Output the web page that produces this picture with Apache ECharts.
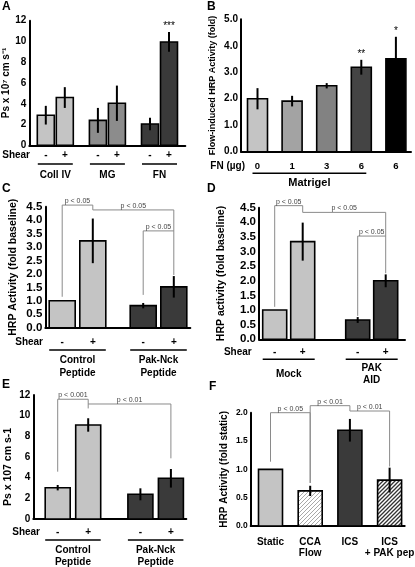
<!DOCTYPE html>
<html><head><meta charset="utf-8">
<script src="https://cdn.jsdelivr.net/npm/echarts@6/dist/echarts.min.js"></script>
<style>html,body{margin:0;padding:0;background:#fff}#c{width:415px;height:567px}</style>
</head><body><div id="c"></div>
<script>
// ---------- Panel A ----------
const aGroups = ['Coll IV', 'MG', 'FN'];
const aShear = ['-', '+', '-', '+', '-', '+'];
const aValues = [2.9, 4.6, 2.4, 4.05, 2.05, 9.95];
const aErrors = [0.9, 1.0, 1.2, 1.7, 0.6, 0.95];
const aStars = ['', '', '', '', '', '***'];
const aTicks = [0, 2, 4, 6, 8, 10, 12];
// ---------- Panel B ----------
const bDoses = ['0', '1', '3', '6', '6'];
const bValues = [2.0, 1.91, 2.49, 3.19, 3.51];
const bErrors = [0.4, 0.2, 0.1, 0.28, 0.83];
const bStars = ['', '', '', '**', '*'];
const bTicks = [0, 1, 2, 3, 4, 5];
const bGroups = ['Matrigel'];
// ---------- Panel C ----------
const cGroups = ['Control\nPeptide', 'Pak-Nck\nPeptide'];
const cShear = ['-', '+', '-', '+'];
const cValues = [1.0, 3.23, 0.82, 1.52];
const cErrors = [0, 0.83, 0.1, 0.4];
const cTicks = [0, 0.5, 1, 1.5, 2, 2.5, 3, 3.5, 4, 4.5];
const cBrackets = [[0, 1, 4.56, 1.15, 4.38], [1, 3, 4.38, 4.38, 1.96], [2, 3, 3.6, 1.22, 3.6]];
const cBracketLabels = ['p < 0.05', 'p < 0.05', 'p < 0.05'];
// ---------- Panel D ----------
const dGroups = ['Mock', 'PAK\nAID'];
const dShear = ['-', '+', '-', '+'];
const dValues = [1.0, 3.34, 0.66, 2.0];
const dErrors = [0, 0.65, 0.1, 0.22];
const dTicks = [0, 0.5, 1, 1.5, 2, 2.5, 3, 3.5, 4, 4.5];
const dBrackets = [[0, 1, 4.57, 1.11, 4.34], [1, 3, 4.34, 4.34, 2.26], [2, 3, 3.53, 0.8, 3.53]];
const dBracketLabels = ['p < 0.05', 'p < 0.05', 'p < 0.05'];
// ---------- Panel E ----------
const eGroups = ['Control\nPeptide', 'Pak-Nck\nPeptide'];
const eShear = ['-', '+', '-', '+'];
const eValues = [3.03, 9.1, 2.39, 3.94];
const eErrors = [0.26, 0.65, 0.58, 0.9];
const eTicks = [0, 2, 4, 6, 8, 10, 12];
const eBrackets = [[0, 1, 11.59, 4.58, 10.7], [1, 3, 11.13, 11.13, 5.87]];
const eBracketLabels = ['p < 0.001', 'p < 0.01'];
// ---------- Panel F ----------
const fCategories = ['Static', 'CCA\nFlow', 'ICS', 'ICS\n+ PAK pep'];
const fValues = [1.0, 0.62, 1.69, 0.81];
const fErrors = [0, 0.09, 0.2, 0.22];
const fTicks = [0, 0.5, 1, 1.5, 2];
const fBrackets = [[0, 1, 2.0, 1.135, 0.76], [1, 2, 2.124, 0.76, 2.03], [2, 3, 2.03, 2.03, 1.05]];
const fBracketLabels = ['p < 0.05', 'p < 0.01', 'p < 0.01'];

const FONT = '"Liberation Sans", Arial, Helvetica, sans-serif';
const LIGHT = '#c4c4c4', DARK = '#3a3a3a';

function hatch(color, lw, bg) {
  const s = 4;
  const c = document.createElement('canvas');
  c.width = s; c.height = s;
  const g = c.getContext('2d');
  g.fillStyle = bg; g.fillRect(0, 0, s, s);
  g.strokeStyle = color; g.lineWidth = lw;
  g.beginPath();
  g.moveTo(-1, s + 1); g.lineTo(s + 1, -1);
  g.moveTo(-1, 1); g.lineTo(1, -1);
  g.moveTo(s - 1, s + 1); g.lineTo(s + 1, s - 1);
  g.stroke();
  return { image: c, repeat: 'repeat' };
}

function pairX(first, group, pair) { return k => first + Math.floor(k / 2) * group + (k % 2) * pair; }
function stepX(first, step) { return k => first + k * step; }

const panels = [
  { letter: 'A', grid: { left: 29.3, top: 20.7, width: 156, height: 124.6 }, x: pairX(16.5, 52.1, 19), barW: 17,
    ticks: aTicks, dec: 0, tickFont: 10, values: aValues, errors: aErrors, stars: aStars,
    fills: [LIGHT, LIGHT, '#8c8c8c', '#8c8c8c', DARK, DARK],
    under: aShear, underOff: 10.4, underFont: 10,
    groups: [[0, 1], [2, 3], [4, 5]], groupNames: aGroups, lineOff: 18.7, nameOff: 30.4, nameFont: 10, nameLH: 12, inset: 0.5,
    yName: 'Ps x 10\u2077 cm s\u207B\u00B9', nameGap: 13, yNameFont: 10, brackets: [], bracketLabels: [] },
  { letter: 'B', grid: { left: 241, top: 19.3, width: 170, height: 132.4 }, x: stepX(16.5, 34.6), barW: 20,
    ticks: bTicks, dec: 1, tickFont: 10, values: bValues, errors: bErrors, stars: bStars,
    fills: [LIGHT, '#a3a3a3', '#828282', '#444444', '#000000'],
    under: bDoses, underOff: 14.3, underFont: 9.5,
    groups: [[0, 3]], groupNames: bGroups, lineOff: 21.6, nameOff: 31, nameFont: 11, nameLH: 12, inset: 5,
    yName: 'Flow-induced HRP Activity (fold)', nameGap: 24, yNameFont: 9, brackets: [], bracketLabels: [] },
  { letter: 'C', grid: { left: 45.3, top: 206.7, width: 145, height: 121 }, x: pairX(16.9, 81, 30.6), barW: 26,
    ticks: cTicks, dec: 1, tickFont: 11.5, values: cValues, errors: cErrors, stars: null,
    fills: [LIGHT, LIGHT, DARK, DARK],
    under: cShear, underOff: 15, underFont: 10,
    groups: [[0, 1], [2, 3]], groupNames: cGroups, lineOff: 22.3, nameOff: 38.7, nameFont: 10, nameLH: 12.7, inset: 0,
    yName: 'HRP Activity (fold baseline)', nameGap: 27, yNameFont: 10.5, brackets: cBrackets, bracketLabels: cBracketLabels },
  { letter: 'D', grid: { left: 259, top: 207.7, width: 146, height: 131.6 }, x: pairX(15.7, 83, 28), barW: 24,
    ticks: dTicks, dec: 1, tickFont: 11.5, values: dValues, errors: dErrors, stars: null,
    fills: [LIGHT, LIGHT, DARK, DARK],
    under: dShear, underOff: 13.4, underFont: 10,
    groups: [[0, 1], [2, 3]], groupNames: dGroups, lineOff: 20, nameOff: 35, nameFont: 10, nameLH: 12, inset: 0,
    yName: 'HRP activity (fold baseline)', nameGap: 32, yNameFont: 10.5, brackets: dBrackets, bracketLabels: dBracketLabels },
  { letter: 'E', grid: { left: 33.3, top: 395, width: 153, height: 124 }, x: pairX(24.4, 82.7, 30.5), barW: 25,
    ticks: eTicks, dec: 0, tickFont: 10, values: eValues, errors: eErrors, stars: null,
    fills: [LIGHT, LIGHT, DARK, DARK],
    under: eShear, underOff: 13.7, underFont: 10,
    groups: [[0, 1], [2, 3]], groupNames: eGroups, lineOff: 21, nameOff: 37.2, nameFont: 10, nameLH: 12.3, inset: 0,
    yName: 'Ps x 107 cm s-1', nameGap: 20, yNameFont: 10.5, yNamePad: [0, 20, 0, 0], brackets: eBrackets, bracketLabels: eBracketLabels },
  { letter: 'F', grid: { left: 250.7, top: 412.7, width: 154, height: 113.3 }, x: stepX(19.8, 39.7), barW: 24,
    ticks: fTicks, dec: 1, tickFont: 8.5, values: fValues, errors: fErrors, stars: null,
    fills: [LIGHT, hatch('#a8a8a8', 1, '#ffffff'), DARK, hatch('#333333', 1.3, '#ffffff')],
    under: fCategories, underOff: 11, underFont: 10, underTop: true, underLH: 10.5,
    groups: [], groupNames: [], lineOff: 0, nameOff: 0, nameFont: 10, nameLH: 12, inset: 0,
    yName: 'HRP Activity (fold static)', nameGap: 21, yNameFont: 10, brackets: fBrackets, bracketLabels: fBracketLabels }
];

const grids = [], xAxes = [], yAxes = [], series = [];

panels.forEach((p, i) => {
  grids.push(Object.assign({ containLabel: false }, p.grid));
  xAxes.push({ gridIndex: i, type: 'value', min: 0, max: p.grid.width,
    axisLine: { show: true, onZero: true, lineStyle: { color: '#000', width: 2 } },
    axisTick: { show: false }, axisLabel: { show: false }, splitLine: { show: false } });
  yAxes.push({ gridIndex: i, type: 'value', min: p.ticks[0], max: p.ticks[p.ticks.length - 1],
    interval: p.ticks[1] - p.ticks[0],
    axisLine: { show: true, lineStyle: { color: '#000', width: 2 } },
    axisTick: { show: false }, splitLine: { show: false },
    axisLabel: { formatter: v => v.toFixed(p.dec), fontFamily: FONT, fontWeight: 'bold', fontSize: p.tickFont, color: '#000', margin: 3 },
    name: p.yName, nameLocation: 'middle', nameGap: p.nameGap, nameRotate: 90,
    nameTextStyle: { fontFamily: FONT, fontWeight: 'bold', fontSize: p.yNameFont, color: '#000', padding: p.yNamePad || 0 } });

  // bars + error bars
  series.push({ type: 'custom', xAxisIndex: i, yAxisIndex: i, clip: false, z: 3,
    data: p.values.map((v, k) => [p.x(k), v, p.errors[k]]),
    renderItem(params, api) {
      const k = params.dataIndex;
      const x = api.value(0), v = api.value(1), e = api.value(2);
      const b = api.coord([x, 0]), t = api.coord([x, v]);
      const ch = [{ type: 'rect', shape: { x: b[0] - p.barW / 2, y: t[1], width: p.barW, height: b[1] - t[1] },
        style: { fill: p.fills[k], stroke: '#000', lineWidth: 1.6 } }];
      const hi = api.coord([x, v + e]);
      if (e > 0) {
        const lo = api.coord([x, v - e]);
        ch.push({ type: 'line', shape: { x1: b[0], y1: lo[1], x2: b[0], y2: hi[1] }, style: { stroke: '#000', lineWidth: 2 } });
      }
      if (p.stars && p.stars[k]) {
        ch.push({ type: 'text', x: b[0], y: hi[1] - 1, style: { text: p.stars[k], font: '10px ' + FONT, fill: '#000', align: 'center', verticalAlign: 'bottom' } });
      }
      return { type: 'group', children: ch };
    } });

  // labels under each bar
  series.push({ type: 'custom', xAxisIndex: i, yAxisIndex: i, clip: false, z: 3, silent: true,
    data: p.under.map((s, k) => [p.x(k), 0]),
    renderItem(params, api) {
      const k = params.dataIndex;
      const b = api.coord([api.value(0), 0]);
      return { type: 'text', x: b[0], y: b[1] + p.underOff,
        style: { text: p.under[k], font: 'bold ' + p.underFont + 'px ' + FONT, fill: '#000', align: 'center',
          verticalAlign: p.underTop ? 'top' : 'middle', lineHeight: p.underLH || p.underFont * 1.2 } };
    } });

  // group underlines and names
  if (p.groups.length) {
    series.push({ type: 'custom', xAxisIndex: i, yAxisIndex: i, clip: false, z: 3, silent: true,
      data: p.groups.map(g => [p.x(g[0]) - p.barW / 2 + p.inset, 0, p.x(g[1]) + p.barW / 2 - p.inset]),
      renderItem(params, api) {
        const k = params.dataIndex;
        const a = api.coord([api.value(0), 0]), c = api.coord([api.value(2), 0]);
        const mid = (a[0] + c[0]) / 2;
        return { type: 'group', children: [
          { type: 'line', shape: { x1: a[0], y1: a[1] + p.lineOff, x2: c[0], y2: a[1] + p.lineOff }, style: { stroke: '#000', lineWidth: 1.6 } },
          { type: 'text', x: mid, y: a[1] + p.nameOff, style: { text: p.groupNames[k], font: 'bold ' + p.nameFont + 'px ' + FONT, fill: '#000', align: 'center', verticalAlign: 'middle', lineHeight: p.nameLH } }
        ] };
      } });
  }

  // significance brackets
  if (p.brackets.length) {
    series.push({ type: 'custom', xAxisIndex: i, yAxisIndex: i, clip: false, z: 2, silent: true,
      data: p.brackets.map(br => [p.x(br[0]), br[2], p.x(br[1]), br[3], br[4]]),
      renderItem(params, api) {
        const k = params.dataIndex;
        const xA = api.value(0), top = api.value(1), xB = api.value(2), botA = api.value(3), botB = api.value(4);
        const pts = [api.coord([xA, botA]), api.coord([xA, top]), api.coord([xB, top]), api.coord([xB, botB])];
        return { type: 'group', children: [
          { type: 'polyline', shape: { points: pts }, style: { stroke: '#8a8a8a', lineWidth: 1, fill: null } },
          { type: 'text', x: (pts[1][0] + pts[2][0]) / 2, y: pts[1][1] - 0.5, style: { text: p.bracketLabels[k], font: '7px ' + FONT, fill: '#444', align: 'center', verticalAlign: 'bottom' } }
        ] };
      } });
  }
});

const letterPos = [[2, 1], [207, 1], [2, 183], [207, 183], [2, 379], [209, 381]];
const graphic = panels.map((p, i) => ({ type: 'text', left: letterPos[i][0], top: letterPos[i][1],
  style: { text: p.letter, font: 'bold 12px ' + FONT, fill: '#000' } }));
const sideLabels = [['Shear', 30, 155.7], ['FN (\u00B5g)', 245, 166], ['Shear', 43, 342.7], ['Shear', 251.7, 352.7], ['Shear', 40, 532.7]];
sideLabels.forEach(s => graphic.push({ type: 'text', x: s[1], y: s[2],
  style: { text: s[0], font: 'bold 10px ' + FONT, fill: '#000', align: 'right', verticalAlign: 'middle' } }));

const chart = echarts.init(document.getElementById('c'), null, { renderer: 'canvas' });
chart.setOption({ animation: false, backgroundColor: '#fff', grid: grids, xAxis: xAxes, yAxis: yAxes, series, graphic });
</script>
</body></html>
